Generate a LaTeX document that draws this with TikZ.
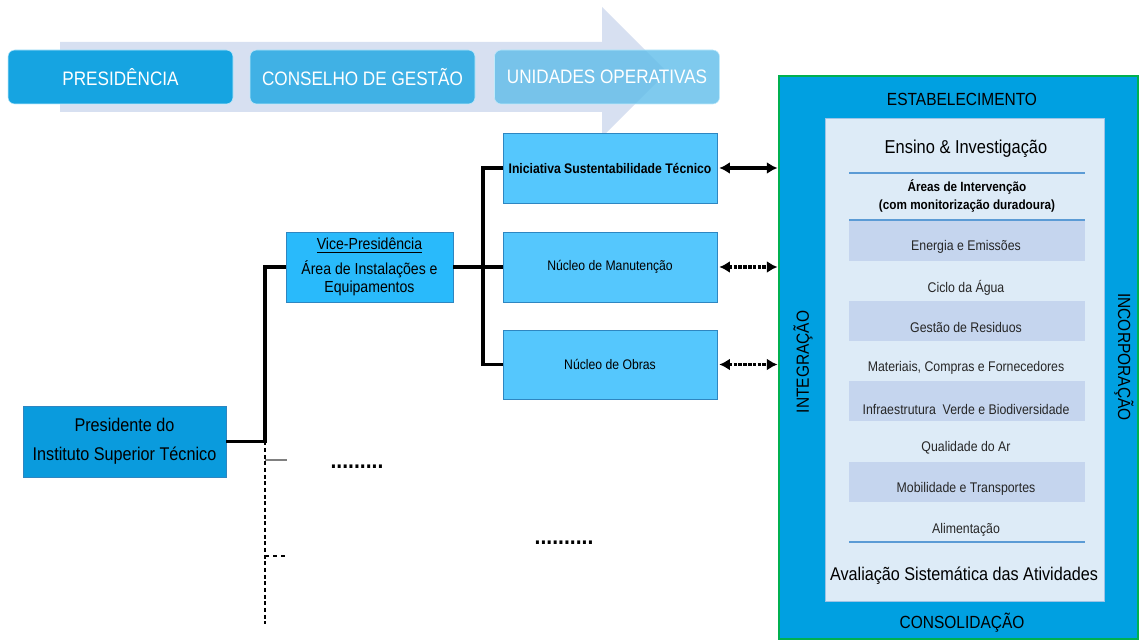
\documentclass[tikz,border=0pt]{standalone}
\usepackage{fontspec}
\setmainfont{Liberation Sans}[FakeStretch=0.88]
\usetikzlibrary{arrows.meta,fit}

\definecolor{banner}{HTML}{D3DDEF}
\definecolor{pres}{HTML}{16A4E1}
\definecolor{cons}{HTML}{40B1E5}
\definecolor{unid}{HTML}{5FBDEA}
\definecolor{topblue}{HTML}{0A9BDD}
\definecolor{vpblue}{HTML}{29BAFB}
\definecolor{subblue}{HTML}{55C7FD}
\definecolor{orgline}{HTML}{2E86C1}
\definecolor{bigblue}{HTML}{00A0E1}
\definecolor{biggreen}{HTML}{00B050}
\definecolor{inner}{HTML}{DDEBF7}
\definecolor{band}{HTML}{C5D5EE}
\definecolor{rule}{HTML}{5B9BD5}
\definecolor{itemtext}{HTML}{262626}

\begin{document}
\begin{tikzpicture}[x=0.75pt,y=-0.75pt]
\useasboundingbox (0,0) rectangle (1140,641);

% seta de fundo
\fill[banner,opacity=.9] (60,42) -- (602,42) -- (602,7) -- (667,72) -- (602,137) -- (602,112) -- (60,112) -- cycle;

\begin{scope}[every node/.style={rounded corners=5pt,draw=white!75!cyan,minimum width=168.75pt,minimum height=40.5pt,text=white,font=\fontsize{14.6}{16}\selectfont}]
	\node[fill=pres] (T1) at (120.5,77) {PRESIDÊNCIA};
	\node[fill=cons] (T2) at (362.5,77) {CONSELHO DE GESTÃO};
	\node[fill=unid,fill opacity=.8,text opacity=1] (T3) at (607,77) {UNIDADES OPERATIVAS};
\end{scope}

% organograma
\begin{scope}[every node/.style={draw=orgline,align=center,minimum height=52.5pt}]
	\node[fill=topblue,minimum width=152.25pt,minimum height=53.25pt,font=\fontsize{13.8}{21.75}\selectfont] (P) at (124.5,441.5) {Presidente do\\Instituto Superior Técnico};
	\node[fill=vpblue,minimum width=125.25pt,font=\fontsize{12}{13.5}\selectfont] (VP) at (369.5,267) {\underline{Vice-Presidência}\\[5pt]Área de Instalações e\\Equipamentos};
	\node[fill=subblue,minimum width=160.5pt,font=\fontsize{10.4}{12}\selectfont\bfseries] (I) at (610,168) {Iniciativa Sustentabilidade Técnico};
	\node[fill=subblue,minimum width=160.5pt,font=\fontsize{10.4}{12}\selectfont] (NM) at (610,267) {Núcleo de Manutenção};
	\node[fill=subblue,minimum width=160.5pt,minimum height=51.75pt,font=\fontsize{10.4}{12}\selectfont] (NO) at (610,364.5) {Núcleo de Obras};
\end{scope}

\coordinate (J1) at (265,441.5);
\coordinate (J2) at (483,267);
\coordinate (J3) at (265,624);
\coordinate (G1) at (265,460);
\coordinate (G2) at (287,460);
\coordinate (D1) at (265,556);
\coordinate (D2) at (287,556);

\begin{scope}[line width=2.8pt]
	\draw (P.east) -- (J1) |- (VP.west);
	\draw (VP.east) -- (J2) -- (NM.west);
	\draw (J2) |- (I.west);
	\draw (J2) |- (NO.west);
\end{scope}
\draw[densely dashed,line width=1pt] (J1) -- (J3);
\draw[gray,line width=.9pt] (G1) -- (G2);
\draw[dashed,line width=1.2pt] (D1) -- (D2);

\node[font=\fontsize{18}{20}\selectfont\bfseries] (R1) at (357,467) {.........};
\node[font=\fontsize{18}{20}\selectfont\bfseries] (R2) at (564,543) {..........};

% bloco de estabelecimento
\node[fit={(779,76) (1138,639)},inner sep=0pt,fill=bigblue,draw=biggreen,line width=2.2pt] (E) {};
\node[fit={(825,118) (1104,601)},inner sep=0pt,fill=inner,draw=rule!60] (IN) {};

\begin{scope}[every node/.style={font=\fontsize{13.2}{15}\selectfont}]
	\node (EST) at (962,99) {ESTABELECIMENTO};
	\node (CON) at (962,623) {CONSOLIDAÇÃO};
	\node[rotate=90] (INT) at (803,362) {INTEGRAÇÃO};
	\node[rotate=-90] (INC) at (1124,357) {INCORPORAÇÃO};
\end{scope}

\foreach \y in {221,301,381,462}
	\fill[band] (849,\y) rectangle (1085,\y+40);
\foreach \y in {173,220,542}
	\draw[rule,line width=.8pt] (849,\y) -- (1085,\y);

\node[font=\fontsize{14}{16}\selectfont] (EI) at (966,149) {Ensino \& Investigação};
\node[font=\fontsize{10}{13.5}\selectfont\bfseries,align=center] (AI) at (967,196) {Áreas de Intervenção\\(com monitorização duradoura)};
\node[font=\fontsize{13.8}{16}\selectfont] (AS) at (964,576) {Avaliação Sistemática das Atividades};

\begin{scope}[every node/.style={font=\fontsize{10.5}{12}\selectfont,text=itemtext}]
	\node (A1) at (966,247) {Energia e Emissões};
	\node (A2) at (966,288) {Ciclo da Água};
	\node (A3) at (966,327) {Gestão de Residuos};
	\node (A4) at (966,368) {Materiais, Compras e Fornecedores};
	\node (A5) at (966,409) {Infraestrutura\ \ Verde e Biodiversidade};
	\node (A6) at (966,448) {Qualidade do Ar};
	\node (A7) at (966,489) {Mobilidade e Transportes};
	\node (A8) at (966,530) {Alimentação};
\end{scope}

% ligações ao estabelecimento
\begin{scope}[line width=2.6pt,arrows={Latex[length=8pt,width=9pt]-Latex[length=8pt,width=9pt]}]
	\draw (I.east) ++(2,0) -- (I.east -| E.west);
	\draw[densely dotted] (NM.east) ++(2,0) -- (NM.east -| E.west);
	\draw[densely dotted] (NO.east) ++(2,0) -- (NO.east -| E.west);
\end{scope}
\end{tikzpicture}
\end{document}
